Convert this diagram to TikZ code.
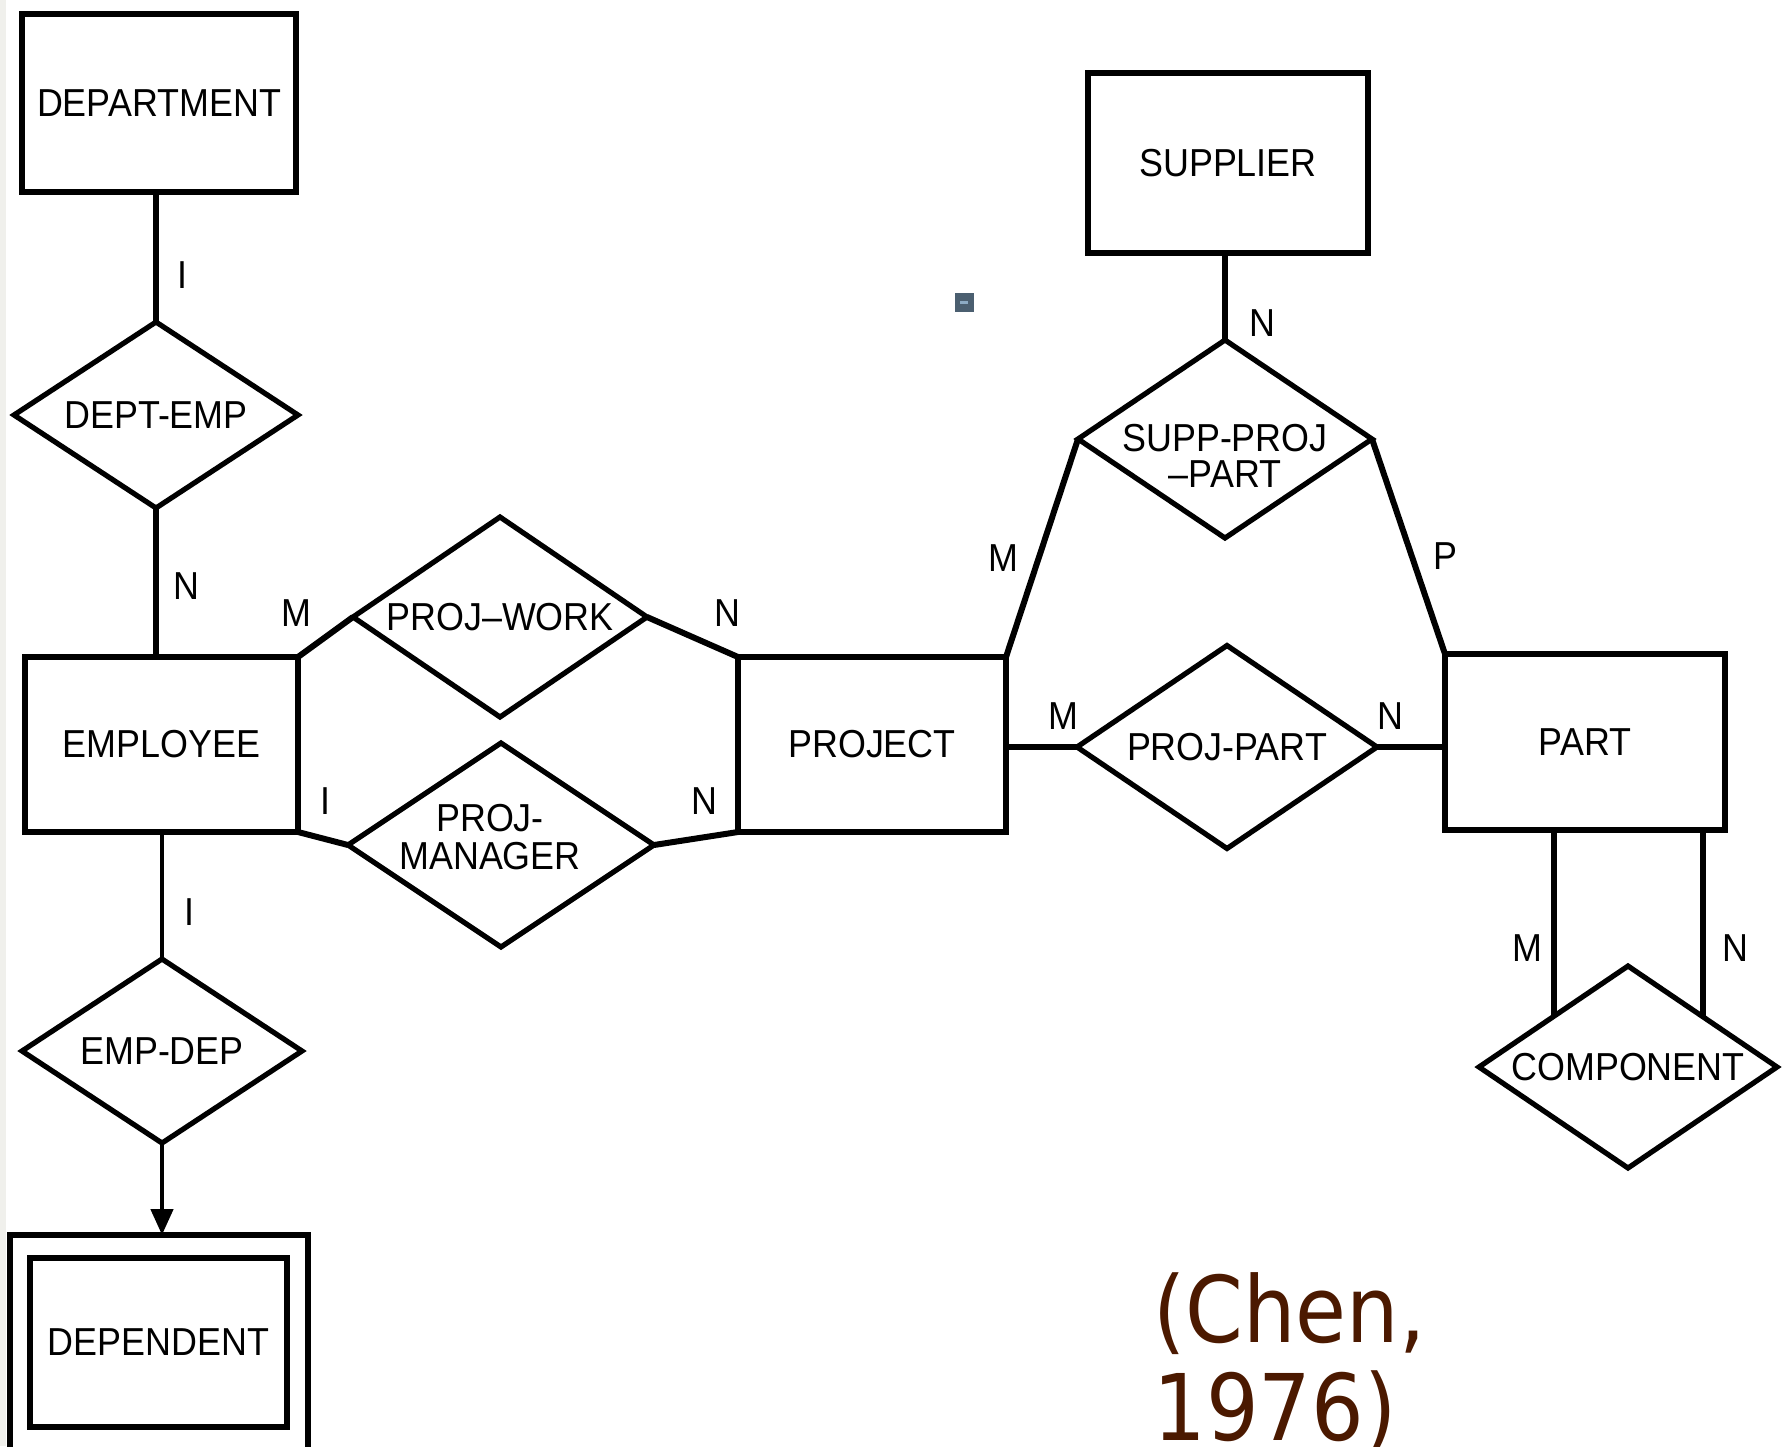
\documentclass[tikz,border=0pt]{standalone}
\usepackage{fontspec}
\setmainfont[FakeStretch=0.92]{Liberation Sans}
\newfontfamily\chenfont[FakeStretch=0.9]{DejaVu Sans}
\usetikzlibrary{shapes.geometric,arrows.meta}
\newdimen\PX \PX=0.5pt
\definecolor{chenbrown}{RGB}{75,25,0}
\definecolor{dotfill}{RGB}{75,95,112}
\definecolor{dotlight}{RGB}{140,170,195}
\definecolor{edgegray}{RGB}{240,240,236}
\begin{document}
\begin{tikzpicture}[x=0.5pt,y=-0.5pt,
  every node/.style={font=\fontsize{19.5pt}{17.5pt}\selectfont},
  entity/.style={draw,line width=3pt,rectangle,inner sep=0pt,outer sep=0pt},
  rel/.style={draw,line width=2.6pt,diamond,shape aspect=1.5,inner sep=-4pt,outer sep=0pt,align=center},
  link/.style={line width=3pt},
  thinlink/.style={line width=2.3pt},
  card/.style={inner sep=0pt}]
\useasboundingbox (0,0) rectangle (1787,1446);
\clip (0,0) rectangle (1787,1446);
\fill[edgegray] (0,0) rectangle (6,1446);

% entities
\node[entity,minimum width=274\PX,minimum height=178\PX] (dept) at (159,103) {DEPARTMENT};
\node[entity,minimum width=273\PX,minimum height=175\PX] (emp) at (161.5,744.5) {EMPLOYEE};
\node[entity,minimum width=268\PX,minimum height=175\PX] (project) at (872,744.5) {PROJECT};
\node[entity,minimum width=280\PX,minimum height=180\PX] (supplier) at (1228,163) {SUPPLIER};
\node[entity,minimum width=280\PX,minimum height=176\PX] (part) at (1585,742) {PART};
\node[entity,minimum width=298\PX,minimum height=240\PX] (depouter) at (159,1355) {};
\node[entity,line width=2.6pt,minimum width=257\PX,minimum height=169\PX] (dependent) at (158.5,1342.5) {DEPENDENT};

% relationships
\node[rel,minimum width=284\PX,minimum height=186\PX] (deptemp) at (156,415) {DEPT-EMP};
\node[rel,minimum width=294\PX,minimum height=200\PX] (projwork) at (500,617) {PROJ–WORK};
\node[rel,minimum width=306\PX,minimum height=204\PX] (projmgr) at (501,845)
  {\raisebox{1.5pt}[\height][\depth]{\begin{tabular}{@{}c@{}}PROJ-\\[0.5pt]MANAGER\end{tabular}}\hspace*{22\PX}};
\node[rel,minimum width=294\PX,minimum height=198\PX] (spp) at (1225,439)
  {\raisebox{-11pt}[\height][\depth]{\begin{tabular}{@{}c@{}}SUPP-PROJ\\[-1pt]–PART\end{tabular}}};
\node[rel,minimum width=300\PX,minimum height=203\PX] (projpart) at (1227,747) {PROJ-PART};
\node[rel,minimum width=298\PX,minimum height=202\PX] (component) at (1628,1067) {COMPONENT};
\node[rel,minimum width=280\PX,minimum height=184\PX] (empdep) at (162,1051) {EMP-DEP};

% connectors
\draw[link] (deptemp.north |- dept.south) -- (deptemp.north);
\draw[link] (deptemp.south) -- (deptemp.south |- emp.north);
\draw[link] (emp.north east) -- (projwork.west);
\draw[link] (projwork.east) -- (project.north west);
\draw[link] (emp.south east) -- (projmgr.west);
\draw[link] (projmgr.east) -- (project.south west);
\draw[link] (spp.north |- supplier.south) -- (spp.north);
\draw[link] (spp.west) -- (project.north east);
\draw[link] (spp.east) -- (part.north west);
\draw[link] (projpart.west -| project.east) -- (projpart.west);
\draw[link] (projpart.east) -- (projpart.east -| part.west);
\draw[link] (component.north west |- part.south) -- (component.north west);
\draw[link] (component.north east |- part.south) -- (component.north east);
\draw[thinlink] (empdep.north |- emp.south) -- (empdep.north);
\draw[thinlink,-{Triangle[length=13pt,width=11pt]}] (empdep.south) -- (empdep.south |- depouter.north);

% cardinalities
\node[card] (c1) at (182,275) {I};
\node[card] (c2) at (186,586) {N};
\node[card] (c3) at (296,613) {M};
\node[card] (c4) at (727,613) {N};
\node[card] (c5) at (325,801) {I};
\node[card] (c6) at (704,801) {N};
\node[card] (c7) at (1262,323) {N};
\node[card] (c8) at (1003,558) {M};
\node[card] (c9) at (1445,556) {P};
\node[card] (c10) at (1063,716) {M};
\node[card] (c11) at (1390,716) {N};
\node[card] (c12) at (1527,948) {M};
\node[card] (c13) at (1735,948) {N};
\node[card] (c14) at (189,912) {I};

% small mark
\fill[dotfill] (955,293) rectangle (974,312);
\fill[dotlight] (960,301) rectangle (968,304);

% citation
\node[anchor=north west,inner sep=0pt,align=left,text=chenbrown,
  font=\chenfont\fontsize{46pt}{49pt}\selectfont] (chen) at (1153,1272) {(Chen,\\1976)};
\end{tikzpicture}
\end{document}
